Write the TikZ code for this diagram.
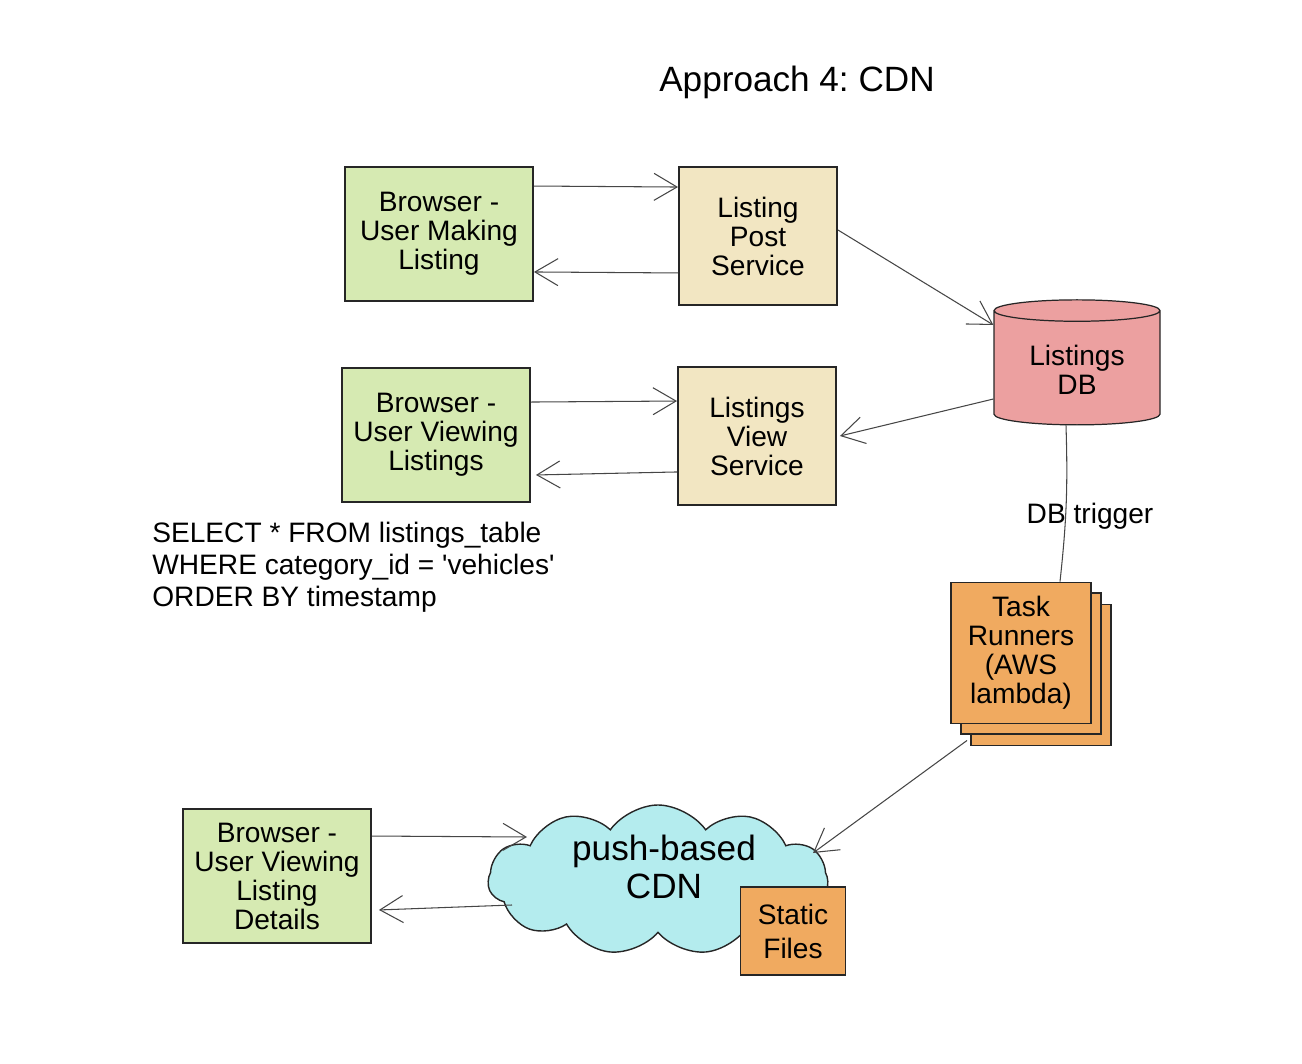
\documentclass[tikz,border=0pt]{standalone}
\usepackage{fontspec}
\setmainfont{Liberation Sans}
\usetikzlibrary{positioning,arrows.meta,shapes.geometric,shapes.symbols,shadows}
\definecolor{browsergreen}{RGB}{214,234,178}
\definecolor{servicetan}{RGB}{242,230,194}
\definecolor{dbpink}{RGB}{236,160,160}
\definecolor{taskorange}{RGB}{240,170,96}
\definecolor{cdncyan}{RGB}{180,236,238}
\definecolor{linegray}{RGB}{70,70,70}
\tikzset{
  boxstyle/.style={rectangle, draw=black!85, line width=1.1pt, align=center,
    font=\fontsize{16}{16.5}\selectfont, inner sep=2pt},
  arrowstyle/.style={-{Straight Barb[length=4.6mm,width=5.4mm]}, linegray, line width=0.6pt}
}

\begin{document}
\frenchspacing
\begin{tikzpicture}[x=0.2mm, y=-0.2mm]
  \useasboundingbox (0,0) rectangle (1302,1064);
  \tikzset{browser/.style={boxstyle, fill=browsergreen, minimum width=37.6mm, minimum height=26.8mm}}
  \tikzset{service/.style={boxstyle, fill=servicetan, minimum width=31.6mm, minimum height=27.6mm}}
  \tikzset{stack/.style={
    copy shadow={shadow xshift=4mm, shadow yshift=-4.4mm, fill=taskorange, draw=black!85, line width=1.1pt},
    copy shadow={shadow xshift=2mm, shadow yshift=-2.1mm, fill=taskorange, draw=black!85, line width=1.1pt}}}
  \node[font=\fontsize{20}{24}\selectfont] (title) at (797,82) {Approach 4: CDN};
  \node[browser] (making) at (439,234) {Browser -\\User Making\\Listing};
  \node[service] (post) at (758,236) {Listing\\Post\\Service};
  \node[browser] (viewing) at (436,435) {Browser -\\User Viewing\\Listings};
  \node[service] (view) at (757,436) {Listings\\View\\Service};
  \node[cylinder, shape border rotate=90, aspect=0.2, draw=black!85, line width=0.7pt,
    fill=dbpink, minimum width=33.2mm, minimum height=25mm, align=center,
    font=\fontsize{16}{16.5}\selectfont] (db) at (1077,370) {Listings\\DB};
  \node[boxstyle, stack, fill=taskorange, minimum width=28mm, minimum height=28.2mm]
    (task) at (1021,653) {Task\\Runners\\(AWS\\lambda)};
  \node[anchor=west, align=left, inner sep=0pt, font=\fontsize{16}{18.2}\selectfont] (query) at (152,567)
    {SELECT * FROM listings\_table\\WHERE category\_id = \textquotesingle vehicles\textquotesingle\\ORDER BY timestamp};
  \node[browser] (details) at (277,876) {Browser -\\User Viewing\\Listing\\Details};
  \node[cloud, cloud puffs=11, cloud puff arc=110, cloud ignores aspect, draw=black!85,
    line width=0.8pt, fill=cdncyan, minimum width=68mm, minimum height=30mm] (cdn) at (658,880) {};
  \node[align=center, font=\fontsize{20}{21.5}\selectfont] (cdntext) at (664,867) {push-based\\CDN};
  \node[boxstyle, fill=taskorange, minimum width=21mm, minimum height=17.6mm,
    font=\fontsize{16}{19.3}\selectfont] (static) at (793,931) {Static\\Files};
  % connectors
  \draw[arrowstyle] ([yshift=-4mm]making.north east) -- ([yshift=-4.2mm]post.north west);
  \draw[arrowstyle] ([yshift=6.6mm]post.south west) -- ([yshift=6mm]making.south east);
  \draw[arrowstyle] ([yshift=-7mm]viewing.north east) -- ([yshift=-7mm]view.north west);
  \draw[arrowstyle] ([yshift=6.8mm]view.south west) -- ([xshift=1mm,yshift=5.6mm]viewing.south east);
  \draw[arrowstyle] ([yshift=1.2mm]post.east) -- ([yshift=9mm]db.west);
  \draw[arrowstyle] ([yshift=-5.8mm]db.west) -- ([xshift=0.6mm]view.east);
  \draw[linegray, line width=0.6pt] ([xshift=-2.2mm]db.south) to[bend left=4]
    node[pos=0.53, xshift=4.8mm, yshift=-1.6mm, text=black, font=\fontsize{16}{16.5}\selectfont] (trigger) {DB trigger}
    ([xshift=7.8mm]task.north);
  \draw[arrowstyle] ([xshift=3.4mm,yshift=-3.2mm]task.south west) -- ([xshift=31mm,yshift=5.4mm]cdn.center);
  \draw[arrowstyle] ([yshift=-5.6mm]details.north east) -- ([xshift=-26.2mm,yshift=8.6mm]cdn.center);
  \draw[arrowstyle] ([xshift=-29.2mm,yshift=-5mm]cdn.center) -- ([xshift=1.4mm,yshift=6.8mm]details.south east);
\end{tikzpicture}
\end{document}
